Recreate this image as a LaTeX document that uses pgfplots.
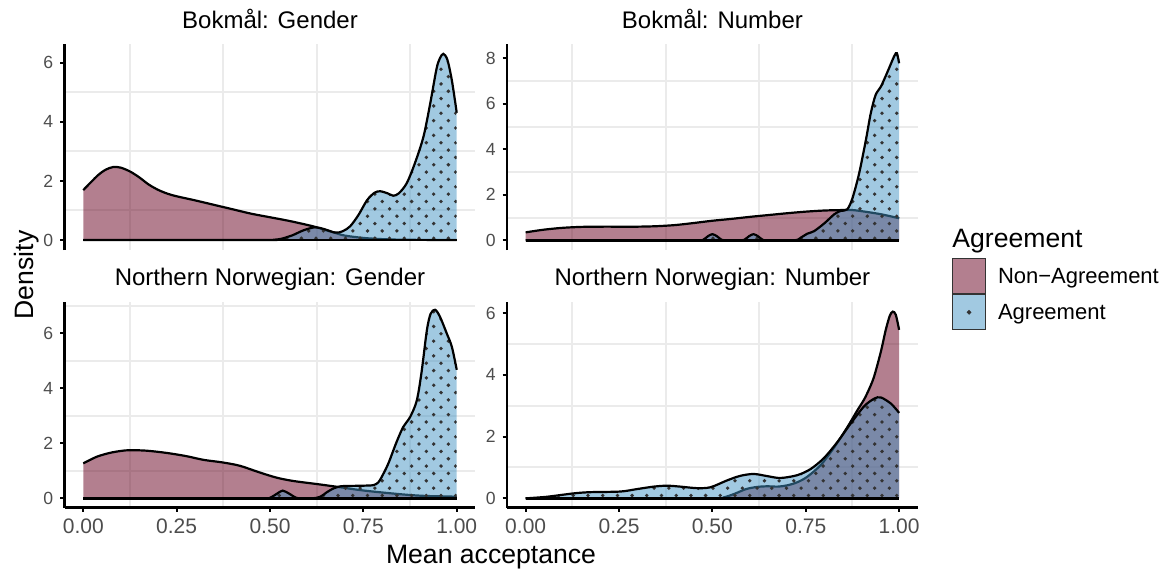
\documentclass[border=0pt]{standalone}
\usepackage{fontspec}
\setmainfont{Liberation Sans}
\usepackage{pgfplots}
\pgfplotsset{compat=1.18}
\usepackage{pgfplotstable}
\usetikzlibrary{patterns}

\definecolor{nonagr}{HTML}{67001F}
\definecolor{agr}{HTML}{4393C3}
\definecolor{gridc}{HTML}{EBEBEB}
\definecolor{tickc}{HTML}{4D4D4D}

\pgfdeclarepatternformonly{agrdots}{\pgfqpoint{-1.5pt}{-1.5pt}}{\pgfqpoint{8.85pt}{8.85pt}}{\pgfqpoint{7.35pt}{7.35pt}}{%
  \pgfpathcircle{\pgfqpoint{0pt}{0pt}}{0.95pt}%
  \pgfpathcircle{\pgfqpoint{3.675pt}{3.675pt}}{0.95pt}%
  \pgfusepath{fill}%
}

% Bokmal: Gender
\pgfplotstableread{
x y
0.00 1.69
0.02 1.95
0.04 2.20
0.06 2.38
0.08 2.47
0.10 2.45
0.125 2.32
0.15 2.12
0.175 1.88
0.20 1.70
0.225 1.57
0.25 1.48
0.30 1.34
0.35 1.19
0.40 1.04
0.45 0.89
0.50 0.77
0.55 0.65
0.60 0.51
0.625 0.43
0.65 0.33
0.675 0.24
0.70 0.15
0.75 0.07
0.80 0.03
0.85 0.01
0.90 0.005
1.00 0.00
}\tlN
\pgfplotstableread{
x y
0.00 0
0.48 0
0.51 0.01
0.53 0.04
0.56 0.16
0.59 0.33
0.62 0.43
0.645 0.37
0.675 0.25
0.695 0.30
0.715 0.47
0.737 0.85
0.76 1.35
0.78 1.60
0.795 1.65
0.815 1.58
0.83 1.50
0.845 1.58
0.866 1.92
0.888 2.60
0.911 3.50
0.929 4.62
0.946 5.80
0.955 6.15
0.964 6.30
0.975 6.10
0.987 5.40
1.00 4.31
}\tlA
% Bokmal: Number
\pgfplotstableread{
x y
0.00 0.35
0.05 0.47
0.10 0.55
0.15 0.59
0.20 0.60
0.25 0.60
0.30 0.60
0.35 0.62
0.40 0.67
0.45 0.76
0.50 0.86
0.55 0.94
0.60 1.03
0.65 1.11
0.70 1.19
0.75 1.26
0.80 1.31
0.85 1.33
0.875 1.33
0.90 1.28
0.95 1.15
1.00 0.97
}\trN
\pgfplotstableread{
x y
0.00 0
0.46 0
0.475 0.02
0.488 0.18
0.50 0.27
0.512 0.18
0.525 0.02
0.54 0
0.57 0
0.585 0.02
0.598 0.18
0.61 0.27
0.622 0.18
0.635 0.02
0.65 0
0.72 0
0.737 0.12
0.754 0.29
0.772 0.40
0.80 0.75
0.826 1.14
0.843 1.29
0.861 1.36
0.875 1.85
0.893 2.95
0.911 4.41
0.924 5.58
0.937 6.39
0.951 6.75
0.969 7.41
0.987 8.10
0.994 8.22
1.00 7.78
}\trA
% Northern Norwegian: Gender
\pgfplotstableread{
x y
0.00 1.27
0.036 1.51
0.071 1.65
0.10 1.72
0.125 1.75
0.17 1.73
0.223 1.65
0.277 1.53
0.321 1.40
0.375 1.30
0.42 1.18
0.47 0.95
0.518 0.75
0.5625 0.63
0.625 0.52
0.679 0.42
0.741 0.30
0.795 0.22
0.866 0.13
0.92 0.085
1.00 0.06
}\blN
\pgfplotstableread{
x y
0.00 0
0.48 0
0.50 0.02
0.52 0.18
0.534 0.28
0.55 0.18
0.57 0.02
0.585 0
0.615 0
0.635 0.06
0.652 0.22
0.67 0.36
0.69 0.44
0.714 0.45
0.75 0.46
0.777 0.48
0.79 0.58
0.80 0.80
0.817 1.27
0.839 2.05
0.857 2.60
0.875 2.95
0.893 3.55
0.906 4.60
0.92 6.10
0.93 6.70
0.942 6.85
0.955 6.60
0.973 6.00
0.987 5.50
1.00 4.67
}\blA
% Northern Norwegian: Number
\pgfplotstableread{
x y
0.00 0
0.50 0
0.53 0.03
0.56 0.15
0.59 0.30
0.62 0.37
0.647 0.39
0.675 0.38
0.70 0.42
0.727 0.52
0.754 0.70
0.79 1.08
0.826 1.65
0.861 2.30
0.888 2.85
0.906 3.20
0.92 3.55
0.933 3.95
0.951 4.75
0.964 5.45
0.975 5.92
0.983 6.05
0.991 5.95
1.00 5.46
}\brN
\pgfplotstableread{
x y
0.00 0
0.056 0.05
0.128 0.16
0.173 0.20
0.253 0.22
0.298 0.30
0.343 0.38
0.378 0.41
0.414 0.38
0.459 0.33
0.495 0.36
0.539 0.58
0.575 0.73
0.611 0.79
0.647 0.72
0.682 0.66
0.727 0.75
0.763 0.95
0.799 1.31
0.835 1.83
0.87 2.42
0.906 2.98
0.933 3.23
0.951 3.27
0.978 3.07
1.00 2.77
}\brA

\newcommand{\densities}[2]{%
  \addplot[draw=none, fill=nonagr, fill opacity=0.5, smooth, forget plot] table {#1} \closedcycle;
  \addplot[black, line width=1.1pt, smooth, forget plot] table {#1};
  \addplot[draw=none, fill=agr, fill opacity=0.5, smooth, forget plot] table {#2} \closedcycle;
  \addplot[draw=none, pattern=agrdots, pattern color=black!80, smooth, forget plot] table {#2} \closedcycle;
  \addplot[black, line width=1.1pt, smooth, forget plot] table {#2};
  \addplot[black, line width=1.2pt, forget plot] coordinates {(0,0) (1,0)};
}

\pgfplotsset{facet/.style={
  scale only axis, width=205.4pt, height=103pt,
  anchor=south west,
  xmin=-0.05, xmax=1.05,
  axis y line*=left, axis x line*=bottom,
  axis line style={line width=1.3pt, black},
  xtick={0,0.25,0.5,0.75,1},
  xticklabels={0.00,0.25,0.50,0.75,1.00},
  minor xtick={0.125,0.375,0.625,0.875},
  grid=minor,
  minor grid style={gridc, line width=1pt},
  tick align=outside,
  major tick length=2.2pt, minor tick length=0pt,
  major tick style={black, line width=1pt},
  tick label style={color=tickc},
  /pgf/number format/assume math mode=true,
  xticklabel style={font=\fontsize{10.5}{12}\selectfont},
  yticklabel style={font=\fontsize{8.8}{10}\selectfont},
  every axis title/.style={at={(0.5,1)}, anchor=base, yshift=7.85pt,
    font=\fontsize{12}{14}\selectfont},
},
notopx/.style={x axis line style={draw=none}, xticklabels={}, major x tick style={draw=none}}
}

\begin{document}
\begin{tikzpicture}
\useasboundingbox (0,0) rectangle (583pt,284.5pt);

\begin{axis}[facet, notopx, at={(32.3pt,159.5pt)},
  ymin=-0.338, ymax=6.633, ytick={0,2,4,6}, minor ytick={1,3,5},
  title={Bokmål: Gender}]
\densities{\tlN}{\tlA}
\end{axis}

\begin{axis}[facet, notopx, at={(253.5pt,159.5pt)},
  ymin=-0.426, ymax=8.629, ytick={0,2,4,6,8}, minor ytick={1,3,5,7},
  title={Bokmål: Number},
  legend style={at={(1.0833,-0.0403)}, anchor=north west, draw=none, fill=none,
    inner sep=0pt, outer sep=0pt, row sep=0pt, column sep=6pt,
    nodes={inner sep=0pt, outer sep=0pt}, font=\fontsize{11}{13}\selectfont},
  legend cell align=left]
\densities{\trN}{\trA}
\addlegendimage{legend image code/.code={\path[fill=nonagr, fill opacity=0.5, draw=black!80, line width=0.5pt] (0pt,-8.3pt) rectangle (16.5pt,9.2pt);}}
\addlegendentry{Non−Agreement}
\addlegendimage{legend image code/.code={\path[fill=agr, fill opacity=0.5, draw=black!80, line width=0.5pt] (0pt,-8.3pt) rectangle (16.5pt,9.2pt); \fill[black!80] (8.25pt,0.45pt) circle (0.95pt);}}
\addlegendentry{Agreement}
\end{axis}

\begin{axis}[facet, at={(32.3pt,30.75pt)},
  ymin=-0.333, ymax=7.149, ytick={0,2,4,6}, minor ytick={1,3,5,7},
  title={Northern Norwegian: Gender}]
\densities{\blN}{\blA}
\end{axis}

\begin{axis}[facet, at={(253.5pt,30.75pt)},
  ymin=-0.297, ymax=6.379, ytick={0,2,4,6}, minor ytick={1,3,5},
  title={Northern Norwegian: Number}]
\densities{\brN}{\brA}
\end{axis}

\node[anchor=base west, inner sep=0pt, font=\fontsize{13.3}{16}\selectfont] at (476pt,160.85pt) {Agreement};
\node[anchor=base, inner sep=0pt, font=\fontsize{13.3}{16}\selectfont] at (245.5pt,2.85pt) {Mean acceptance};
\node[rotate=90, anchor=base, inner sep=0pt, font=\fontsize{13.3}{16}\selectfont] at (16.65pt,147pt) {Density};
\end{tikzpicture}
\end{document}
